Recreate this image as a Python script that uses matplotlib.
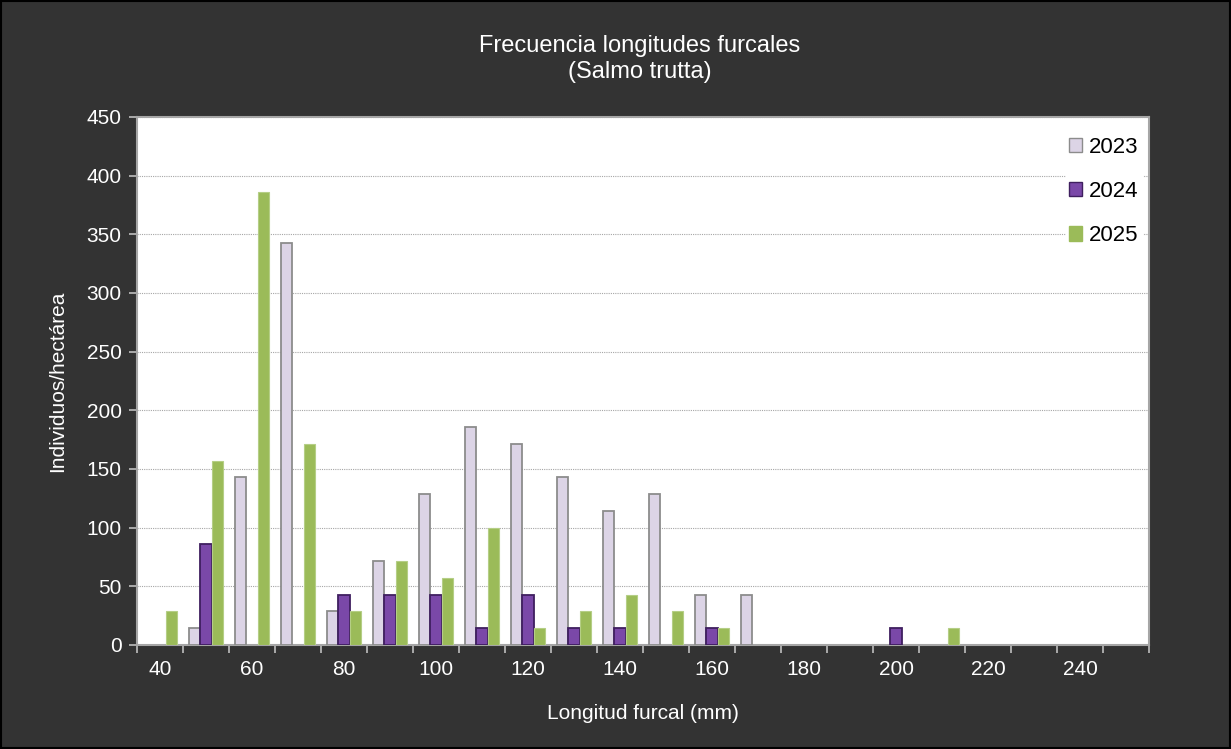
import matplotlib.pyplot as plt
import numpy as np
from matplotlib.patches import Patch, Rectangle

# length classes (mm) and densities (individuos/ha) per year
clases = list(range(40, 260, 10))
y2023 = [0, 14.3, 142.9, 342.9, 28.6, 71.4, 128.6, 185.7, 171.4, 142.9, 114.3, 128.6,
         42.9, 42.9, 0, 0, 0, 0, 0, 0, 0, 0]
y2024 = [0, 85.7, 0, 0, 42.9, 42.9, 42.9, 14.3, 42.9, 14.3, 14.3, 0,
         14.3, 0, 0, 0, 14.3, 0, 0, 0, 0, 0]
y2025 = [28.6, 157.1, 385.7, 171.4, 28.6, 71.4, 57.1, 100, 14.3, 28.6, 42.9, 28.6,
         14.3, 0, 0, 0, 0, 14.3, 0, 0, 0, 0]
etiquetas = [str(c) if c % 20 == 0 else '' for c in clases]

plt.rcParams['font.family'] = ['Liberation Sans', 'DejaVu Sans']
bg = '#333333'

fig = plt.figure(figsize=(12.31, 7.49), dpi=100, facecolor=bg)
ax = fig.add_axes([0.1113, 0.1389, 0.8221, 0.7049])
ax.set_facecolor('white')

x = np.arange(len(clases))
w = 0.25
series = [
    (y2023, -w, '#DCD4E6', '#8C8C8C', 1.3),
    (y2024, 0, '#7A48A8', '#3F1F5F', 1.3),
    (y2025, w, '#9BBB59', '#B5CE86', 0.8),
]
for vals, off, fc, ec, lw in series:
    bars = ax.bar(x + off, vals, w, color=fc, edgecolor=ec, linewidth=lw, zorder=3)
    for b, v in zip(bars, vals):
        if v == 0:
            b.set_visible(False)

ax.set_xlim(-0.5, len(clases) - 0.5)
ax.set_ylim(0, 450)
ax.set_yticks(np.arange(0, 451, 50))
ax.set_xticks(x)
ax.set_xticklabels(etiquetas)
ax.set_xticks(np.arange(-0.5, len(clases)), minor=True)
ax.tick_params(axis='x', which='major', length=0, pad=11, colors='white', labelsize=15)
ax.tick_params(axis='x', which='minor', length=6, color='#BFBFBF', width=1.2)
ax.tick_params(axis='y', length=6, width=1.2, colors='white', labelsize=15, pad=5)
ax.tick_params(axis='y', color='#BFBFBF')

ax.yaxis.grid(True, linestyle=(0, (1, 1)), color='#A6A6A6', linewidth=0.8, zorder=0)
ax.set_axisbelow(True)
for s in ax.spines.values():
    s.set_color('#A6A6A6')
    s.set_linewidth(1.5)

ax.set_xlabel('Longitud furcal (mm)', color='white', fontsize=15, labelpad=18)
ax.set_ylabel('Individuos/hectárea', color='white', fontsize=15, labelpad=14)
fig.text(0.52, 0.921, 'Frecuencia longitudes furcales\n(Salmo trutta)', color='white',
         fontsize=17, ha='center', va='center', linespacing=1.25)

handles = [Patch(facecolor='#DCD4E6', edgecolor='#8C8C8C', label='2023'),
           Patch(facecolor='#7A48A8', edgecolor='#3F1F5F', label='2024'),
           Patch(facecolor='#9BBB59', edgecolor='#9BBB59', label='2025')]
leg = ax.legend(handles=handles, loc='upper right', bbox_to_anchor=(1.004, 0.99),
                fontsize=16, frameon=True, facecolor='white', edgecolor='white',
                framealpha=1, handlelength=0.6, handleheight=0.6, handletextpad=0.3,
                labelspacing=1.05, borderpad=0.15, fancybox=False)
leg.set_zorder(5)

fig.patches.append(Rectangle((0.001, 0.001), 0.998, 0.997, transform=fig.transFigure,
                             fill=False, edgecolor='black', linewidth=1.5))

fig.savefig('out.png', dpi=100, facecolor=bg)
